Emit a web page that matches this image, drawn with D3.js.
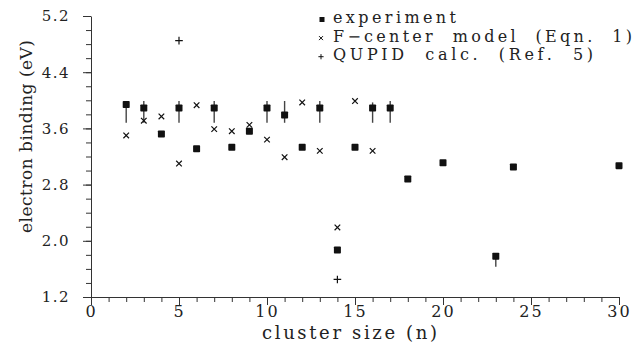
<!DOCTYPE html>
<html>
<head>
  <meta charset="utf-8">
  <script src="https://d3js.org/d3.v7.min.js"></script>
  <style>
    body { margin: 0; background: #fff; }
    svg { display: block; }
    text { font-family: "DejaVu Serif", "Liberation Serif", serif; fill: #222; }
  </style>
</head>
<body>
<script>
  // ---- data ----
  var expN    = [2, 3, 4, 5, 6, 7, 8, 9, 10, 11, 12, 13, 14, 15, 16, 17, 18, 20, 23, 24, 30];
  var expVal  = [3.94, 3.89, 3.52, 3.89, 3.31, 3.89, 3.33, 3.56, 3.89, 3.79, 3.33, 3.89, 1.87, 3.33, 3.89, 3.89, 2.88, 3.11, 1.78, 3.05, 3.07];
  // error bars (null = none)
  var expLo   = [3.68, 3.68, null, 3.68, null, 3.68, null, null, 3.68, 3.68, null, 3.68, null, null, 3.68, 3.68, null, null, 1.63, null, null];
  var expHi   = [3.94, 3.99, null, 3.99, null, 3.99, null, null, 3.99, 3.99, null, 3.99, null, null, 3.97, 3.99, null, null, 1.78, null, null];

  var fcN     = [2, 3, 4, 5, 6, 7, 8, 9, 10, 11, 12, 13, 14, 15, 16];
  var fcVal   = [3.50, 3.71, 3.77, 3.10, 3.93, 3.59, 3.56, 3.65, 3.44, 3.19, 3.97, 3.28, 2.19, 3.99, 3.28];

  var qpN     = [5, 14];
  var qpVal   = [4.85, 1.45];

  var yTicks  = [1.2, 2.0, 2.8, 3.6, 4.4, 5.2];
  var xTicks  = [0, 5, 10, 15, 20, 25, 30];

  var legendLabels = ["experiment", "F\u2212center  model  (Eqn.  1)", "QUPID  calc.  (Ref.  5)"];

  // ---- setup ----
  var W = 639, H = 345;
  var svg = d3.select("body").append("svg")
      .attr("width", W).attr("height", H);

  var x = d3.scaleLinear().domain([0, 30]).range([91, 619]);
  var y = d3.scaleLinear().domain([1.2, 5.2]).range([297, 16]);

  var ink = "#111";

  // minor ticks
  svg.append("g")
      .attr("transform", "translate(" + x(0) + ",0)")
      .call(d3.axisLeft(y).tickValues(d3.range(1.2, 5.21, 0.2)).tickSize(5).tickSizeOuter(0).tickFormat(""))
      .call(function (g) { g.select(".domain").remove(); });
  svg.append("g")
      .attr("transform", "translate(0," + y(1.2) + ")")
      .call(d3.axisBottom(x).tickValues(d3.range(0, 31, 1)).tickSize(5).tickSizeOuter(0).tickFormat(""))
      .call(function (g) { g.select(".domain").remove(); });

  // major ticks + labels
  var yAxis = svg.append("g")
      .attr("transform", "translate(" + x(0) + ",0)")
      .call(d3.axisLeft(y).tickValues(yTicks).tickSize(8).tickSizeOuter(0).tickPadding(13).tickFormat(d3.format(".1f")));
  yAxis.selectAll("text")
      .style("font-size", "15px").style("letter-spacing", "1.5px")
      .style("font-family", "DejaVu Serif").attr("fill", "#222");

  var xAxis = svg.append("g")
      .attr("transform", "translate(0," + y(1.2) + ")")
      .call(d3.axisBottom(x).tickValues(xTicks).tickSize(8).tickSizeOuter(0).tickPadding(1));
  xAxis.selectAll("text")
      .style("font-size", "16px").style("letter-spacing", "2px")
      .style("font-family", "DejaVu Serif").attr("fill", "#222");

  svg.selectAll(".tick line").attr("stroke", "#333");
  svg.selectAll(".domain").attr("stroke", "#333");

  // axis titles
  svg.append("text")
      .attr("transform", "translate(32,136.5) rotate(-90)")
      .attr("text-anchor", "middle")
      .attr("textLength", 193).attr("lengthAdjust", "spacing")
      .style("font-size", "17px")
      .text("electron binding (eV)");

  svg.append("text")
      .attr("x", 262).attr("y", 339)
      .attr("textLength", 175).attr("lengthAdjust", "spacing")
      .style("font-size", "18px")
      .text("cluster size (n)");

  // marker paths
  function xMark(cx, cy, r) {
    return "M" + (cx - r) + "," + (cy - r) + "L" + (cx + r) + "," + (cy + r) +
           "M" + (cx - r) + "," + (cy + r) + "L" + (cx + r) + "," + (cy - r);
  }
  function plusMark(cx, cy, r) {
    return "M" + (cx - r) + "," + cy + "L" + (cx + r) + "," + cy +
           "M" + cx + "," + (cy - r) + "L" + cx + "," + (cy + r);
  }

  // error bars
  var expData = expN.map(function (n, i) {
    return { n: n, v: expVal[i], lo: expLo[i], hi: expHi[i] };
  });
  svg.append("g").selectAll("line")
      .data(expData.filter(function (d) { return d.lo !== null; }))
      .join("line")
      .attr("x1", function (d) { return x(d.n); })
      .attr("x2", function (d) { return x(d.n); })
      .attr("y1", function (d) { return y(d.lo); })
      .attr("y2", function (d) { return y(d.hi); })
      .attr("stroke", "#444").attr("stroke-width", 1.4);

  // experiment squares
  svg.append("g").selectAll("rect")
      .data(expData)
      .join("rect")
      .attr("x", function (d) { return x(d.n) - 3.5; })
      .attr("y", function (d) { return y(d.v) - 3.5; })
      .attr("width", 7).attr("height", 7)
      .attr("rx", 0.8)
      .attr("fill", ink);

  // F-center crosses
  svg.append("g").selectAll("path")
      .data(fcN.map(function (n, i) { return { n: n, v: fcVal[i] }; }))
      .join("path")
      .attr("d", function (d) { return xMark(x(d.n), y(d.v), 2.8); })
      .attr("stroke", ink).attr("stroke-width", 1.2).attr("fill", "none");

  // QUPID pluses
  svg.append("g").selectAll("path")
      .data(qpN.map(function (n, i) { return { n: n, v: qpVal[i] }; }))
      .join("path")
      .attr("d", function (d) { return plusMark(x(d.n), y(d.v), 3.8); })
      .attr("stroke", ink).attr("stroke-width", 1.2).attr("fill", "none");

  // legend
  var legLen = [123, 299, 260];
  var leg = svg.append("g");
  legendLabels.forEach(function (lab, i) {
    var by = 23 + i * 18.6;
    var my = by - 4.5;
    if (i === 0) {
      leg.append("rect").attr("x", 319.5).attr("y", my - 2.5 + 1)
        .attr("width", 5).attr("height", 5).attr("fill", ink);
    } else if (i === 1) {
      leg.append("path").attr("d", xMark(321, my + 1, 2))
        .attr("stroke", ink).attr("stroke-width", 1).attr("fill", "none");
    } else {
      leg.append("path").attr("d", plusMark(321, my + 1, 2.6))
        .attr("stroke", ink).attr("stroke-width", 1).attr("fill", "none");
    }
    leg.append("text")
      .attr("x", 333).attr("y", by)
      .attr("textLength", legLen[i]).attr("lengthAdjust", "spacing")
      .style("font-size", "16px")
      .style("white-space", "pre")
      .text(lab);
  });
</script>
</body>
</html>
